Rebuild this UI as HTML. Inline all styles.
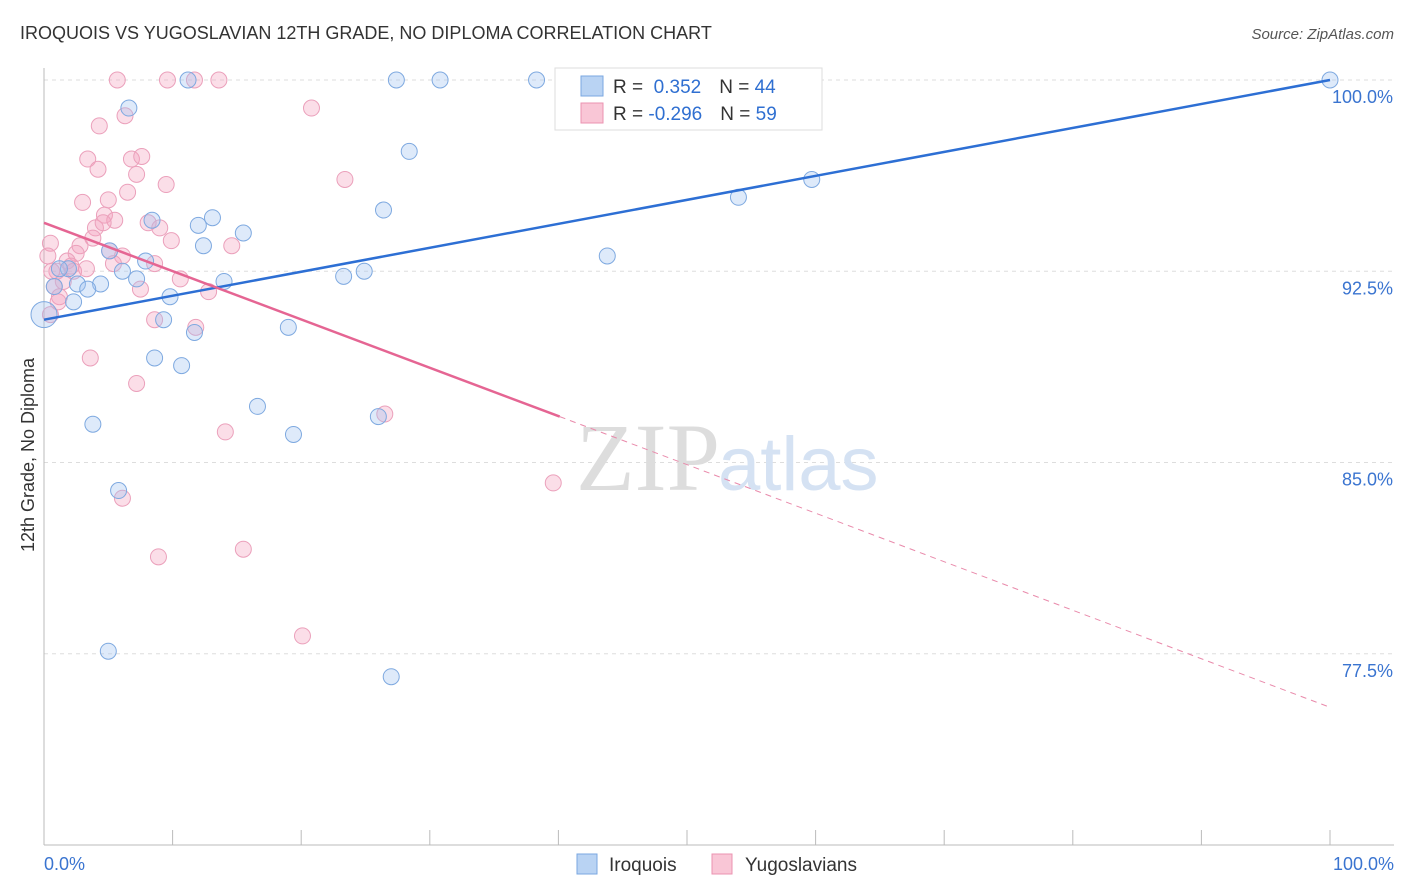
<!DOCTYPE html>
<html><head><meta charset="utf-8"><style>
body{margin:0;background:#fff;font-family:"Liberation Sans",sans-serif;}
svg{display:block}
</style></head><body>
<svg id="chart" width="1406" height="892">
<text x="20" y="39" font-size="18" fill="#333">IROQUOIS VS YUGOSLAVIAN 12TH GRADE, NO DIPLOMA CORRELATION CHART</text>
<text x="1394" y="39" font-size="15" fill="#555" font-style="italic" text-anchor="end">Source: ZipAtlas.com</text>
<text transform="translate(34,455) rotate(-90)" font-size="18" fill="#333" text-anchor="middle">12th Grade, No Diploma</text>
<g id="grid"></g>
<text x="720" y="490" font-size="96" fill="#ddd" text-anchor="end" font-family="Liberation Serif">ZIP</text>
<text x="718" y="490" font-size="76" fill="#d5e2f3">atlas</text>
<g id="pts"></g>
<g id="lines"></g>
<g>
<rect x="555" y="68" width="267" height="62" fill="#fff" stroke="#ddd"/>
<rect x="581" y="76" width="22" height="20" fill="#b9d3f3" stroke="#7aa7e0"/>
<rect x="581" y="103" width="22" height="20" fill="#f9c6d6" stroke="#eb93b0"/>
<text x="613" y="93" font-size="19" fill="#333">R = <tspan fill="#2f6fd1">&#160;0.352</tspan><tspan dx="18">N = </tspan><tspan fill="#2f6fd1">44</tspan></text>
<text x="613" y="120" font-size="19" fill="#333">R = <tspan fill="#2f6fd1">-0.296</tspan><tspan dx="18">N = </tspan><tspan fill="#2f6fd1">59</tspan></text>
</g>
<g>
<rect x="577" y="854" width="20" height="20" fill="#b9d3f3" stroke="#7aa7e0"/>
<text x="609" y="871" font-size="19" fill="#333">Iroquois</text>
<rect x="712" y="854" width="20" height="20" fill="#f9c6d6" stroke="#eb93b0"/>
<text x="745" y="871" font-size="19" fill="#333">Yugoslavians</text>
</g>
</svg>
<script>
const yTicks=[100,92.5,85,77.5];
const xTickLabels=["0.0%","100.0%"];
const blueX=[11.2,27.4,30.8,38.3,100,6.6,28.4,59.7,54,26.4,8.4,13.1,12,15.5,12.4,5.1,43.8,7.9,1.9,6.1,24.9,23.3,7.2,0.8,2.6,4.4,3.4,14,9.8,2.3,9.3,11.7,19,0,8.6,10.7,16.6,26,3.8,19.4,5.8,5,27,1.2];
const blueY=[100,100,100,100,100,98.9,97.2,96.1,95.4,94.9,94.5,94.6,94.3,94,93.5,93.3,93.1,92.9,92.6,92.5,92.5,92.3,92.2,91.9,92,92,91.8,92.1,91.5,91.3,90.6,90.1,90.3,90.8,89.1,88.8,87.2,86.8,86.5,86.1,83.9,77.6,76.6,92.6];
const pinkX=[5.7,9.6,11.7,13.6,20.8,6.3,4.3,3.4,6.8,7.6,4.2,7.2,6.5,9.5,23.4,3,5,4.7,5.5,8.1,4,9,3.8,9.9,2.8,0.5,14.6,5.1,6.1,0.3,2.5,1.8,5.4,8.6,1,3.3,2.3,1.5,10.6,0.8,7.5,12.8,1.2,8.6,11.8,3.6,7.2,26.5,14.1,39.6,6.1,8.9,15.5,20.1,0.5,1.1,2.1,4.6,0.6];
const pinkY=[100,100,100,100,98.9,98.6,98.2,96.9,96.9,97,96.5,96.3,95.6,95.9,96.1,95.2,95.3,94.7,94.5,94.4,94.2,94.2,93.8,93.7,93.5,93.6,93.5,93.3,93.1,93.1,93.2,92.9,92.8,92.8,92.5,92.6,92.5,92.1,92.2,91.9,91.8,91.7,91.5,90.6,90.3,89.1,88.1,86.9,86.2,84.2,83.6,81.3,81.6,78.2,90.8,91.3,92.7,94.4,92.5];
const blueLine=[[0,90.6],[100,100]];
const pinkLine=[[0,94.4],[40.1,86.8],[100,75.4]];
const X=v=>44+v*12.86, Y=v=>80+(100-v)*25.5;
const ns="http://www.w3.org/2000/svg";
function mk(t,a,p){const e=document.createElementNS(ns,t);for(const k in a)e.setAttribute(k,a[k]);p.appendChild(e);return e;}
const g=document.getElementById('grid');
yTicks.forEach(t=>{
 const l=mk('line',{x1:44,x2:1394,y1:Y(t),y2:Y(t),stroke:'#ddd','stroke-dasharray':'4,4'},g);
 
 
 const tx=mk('text',{x:1393,y:Y(t)+23,'font-size':18,fill:'#3a74d0','text-anchor':'end'},g);
 tx.textContent=t.toFixed(1)+'%';
 
 
});
const ax=mk('line',{x1:44,x2:1394,y1:845,y2:845,stroke:'#bbb'},g);


const ay=mk('line',{x1:44,x2:44,y1:68,y2:845,stroke:'#bbb'},g);


for(let i=0;i<=10;i++){const l=mk('line',{x1:X(i*10),x2:X(i*10),y1:830,y2:845,stroke:'#bbb'},g);
 
 }
[[0,'start'],[100,'end']].forEach((p,i)=>{const t=mk('text',{x:p[0]?1394:44,y:870,'font-size':18,fill:'#3a74d0','text-anchor':p[1]},g);t.textContent=xTickLabels[i];
 
 });
const pg=document.getElementById('pts');
pinkX.forEach((v,i)=>{const c=mk('circle',{cx:X(v),cy:Y(pinkY[i]),r:8,fill:'rgba(244,160,190,0.35)',stroke:'#eba0bb'},pg);
 
 });
blueX.forEach((v,i)=>{const c=mk('circle',{cx:X(v),cy:Y(blueY[i]),r:v===0?13:8,fill:'rgba(160,195,240,0.35)',stroke:'#7ea9e0'},pg);
 
 });
const lg=document.getElementById('lines');
const bl=mk('line',{x1:X(blueLine[0][0]),y1:Y(blueLine[0][1]),x2:X(blueLine[1][0]),y2:Y(blueLine[1][1]),stroke:'#2d6fd4','stroke-width':2.5},lg);


const pl=mk('line',{x1:X(pinkLine[0][0]),y1:Y(pinkLine[0][1]),x2:X(pinkLine[1][0]),y2:Y(pinkLine[1][1]),stroke:'#e56593','stroke-width':2.5},lg);


const pd=mk('line',{x1:X(pinkLine[1][0]),y1:Y(pinkLine[1][1]),x2:X(pinkLine[2][0]),y2:Y(pinkLine[2][1]),stroke:'#e98aab','stroke-width':1,'stroke-dasharray':'6,5'},lg);


</script>
</body></html>
